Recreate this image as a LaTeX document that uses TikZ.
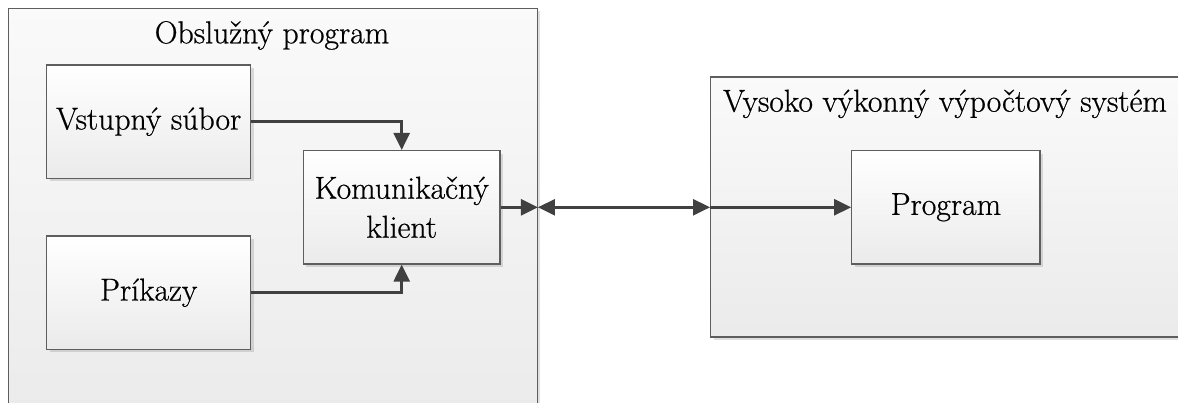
\documentclass[tikz,border=0pt]{standalone}
\usepackage{fontspec}
\setmainfont{Latin Modern Roman}[FakeBold=0.6]
\usetikzlibrary{arrows.meta,shadows}
\definecolor{edgegray}{HTML}{5E5E5E}
\definecolor{wiregray}{HTML}{404040}
\newcommand{\labelsize}{\fontsize{31.7}{39}\selectfont}
\begin{document}
\begin{tikzpicture}[x=1pt,y=-1pt,
  softshadow/.style={drop shadow={shadow xshift=3pt,shadow yshift=-3pt,fill=black,opacity=0.12}},
  container/.style={draw=edgegray, line width=1.3pt, top color=white!98!black,
    bottom color=black!8, softshadow, inner sep=0pt},
  block/.style={draw=edgegray, line width=1.3pt, top color=white, bottom color=black!8,
    softshadow, align=center, font=\labelsize, inner sep=0pt},
  heading/.style={font=\labelsize, anchor=base, inner sep=0pt},
  wire/.style={draw=wiregray, line width=2.6pt, -{Triangle[length=17pt,width=16pt]}},
  bothwire/.style={draw=wiregray, line width=2.6pt,
    {Triangle[length=17pt,width=16pt]}-{Triangle[length=17pt,width=16pt]}},
]
\useasboundingbox[fill=white] (0,0) rectangle (1178,403);

% client side container and its parts
\node[container, minimum width=529pt, minimum height=416pt] (obsl) at (272.8,216.5) {};
\node[heading] (obsltitle) at (272,43.3) {Obslužný program};
\node[block, minimum width=204pt, minimum height=113.3pt] (vst) at (148.7,121.7) {Vstupný súbor};
\node[block, minimum width=204pt, minimum height=113.3pt] (prik) at (148.7,292.7) {Príkazy};
\node[block, minimum width=196.7pt, minimum height=113.3pt] (kom) at (401.7,207.3) {Komunikačný\\klient};

% high performance system container
\node[container, minimum width=480pt, minimum height=260pt] (vvs) at (950.7,207) {};
\node[heading] (vvstitle) at (945,111.7) {Vysoko výkonný výpočtový systém};
\node[block, minimum width=188.3pt, minimum height=113.3pt] (prog) at (945.9,207.3) {Program};

% connections
\coordinate (leftport) at (kom.east -| obsl.east);
\coordinate (rightport) at (kom.east -| vvs.west);
\draw[wire] (vst.east) -| (kom.north);
\draw[wire] (prik.east) -| (kom.south);
\draw[wire] (kom.east) -- (leftport);
\draw[bothwire] (leftport) -- (rightport);
\draw[wire] (rightport) -- (prog.west);
\end{tikzpicture}
\end{document}
